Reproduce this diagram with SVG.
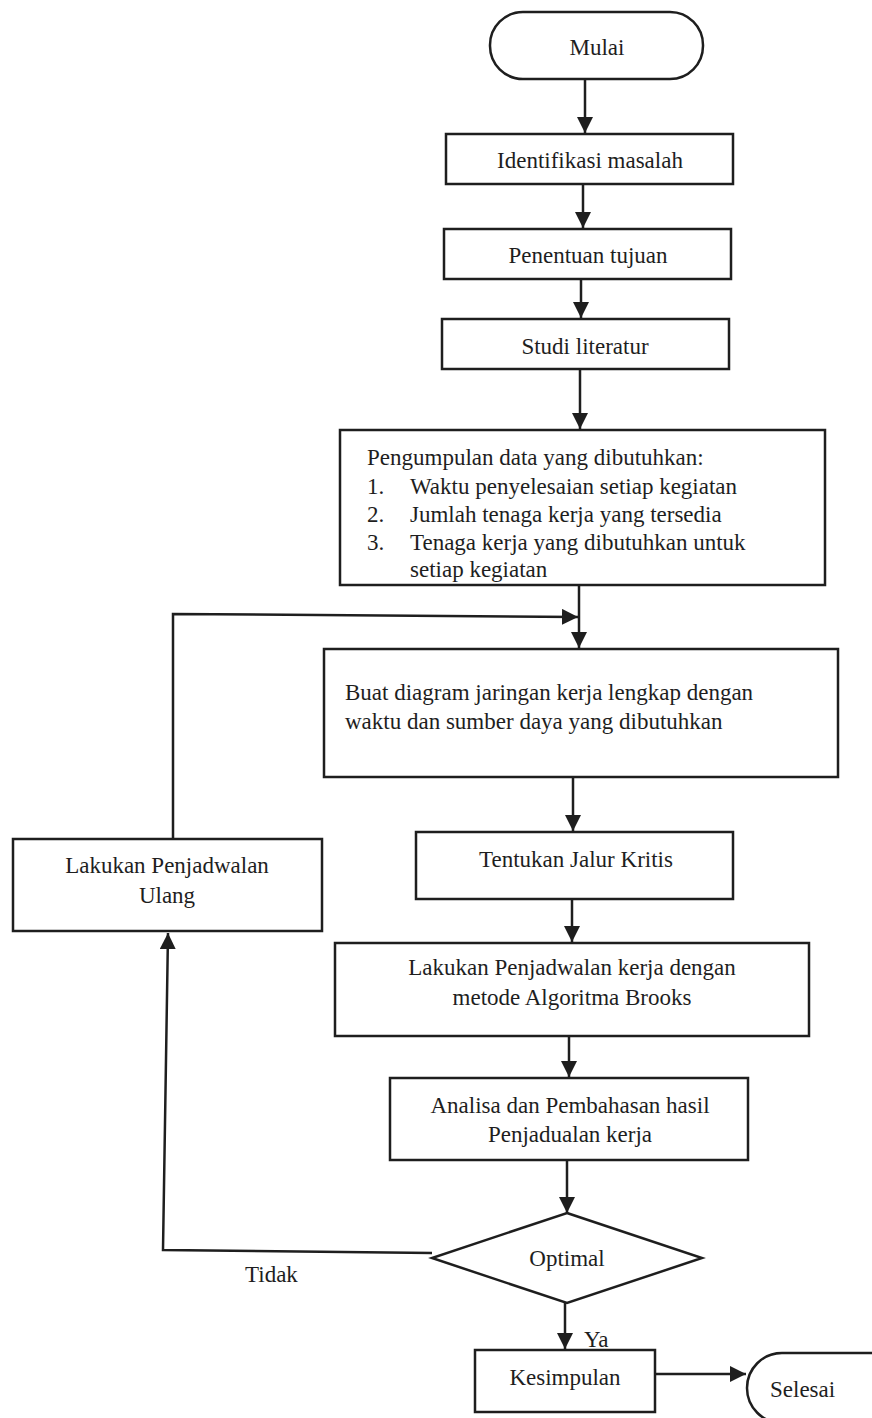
<svg xmlns="http://www.w3.org/2000/svg" width="872" height="1418" viewBox="0 0 872 1418">
<defs>
<style>
.n{fill:#fff;stroke:#1e1e1e;stroke-width:2.5}
.c{fill:none;stroke:#1e1e1e;stroke-width:2.5}
text{font-family:"Liberation Serif","Times New Roman",serif;font-size:23px;fill:#1e1e1e}
.m{text-anchor:middle}
</style>
<marker id="ah" markerUnits="userSpaceOnUse" markerWidth="16" markerHeight="16" refX="16" refY="8" orient="auto">
<path d="M0,0 L16,8 L0,16 z" fill="#1e1e1e"/>
</marker>
</defs>
<rect width="872" height="1418" fill="#fff"/>
<g id="connectors">
<line class="c" x1="585" y1="79" x2="585" y2="133" marker-end="url(#ah)"/>
<line class="c" x1="583" y1="184" x2="583" y2="228" marker-end="url(#ah)"/>
<line class="c" x1="581" y1="279" x2="581" y2="318" marker-end="url(#ah)"/>
<line class="c" x1="580" y1="369" x2="580" y2="429" marker-end="url(#ah)"/>
<line class="c" x1="579" y1="585" x2="579" y2="648" marker-end="url(#ah)"/>
<polyline class="c" points="173,838 173,614 578,617" marker-end="url(#ah)"/>
<line class="c" x1="573" y1="777" x2="573" y2="831" marker-end="url(#ah)"/>
<line class="c" x1="572" y1="899" x2="572" y2="942" marker-end="url(#ah)"/>
<line class="c" x1="569" y1="1036" x2="569" y2="1077" marker-end="url(#ah)"/>
<line class="c" x1="567" y1="1160" x2="567" y2="1213" marker-end="url(#ah)"/>
<polyline class="c" points="432,1253 163,1250 168,933" marker-end="url(#ah)"/>
<line class="c" x1="565" y1="1303" x2="565" y2="1349" marker-end="url(#ah)"/>
<line class="c" x1="655" y1="1374" x2="746" y2="1374" marker-end="url(#ah)"/>
<text x="245" y="1282">Tidak</text>
<text x="584" y="1347">Ya</text>
</g>
<g id="mulai">
<rect class="n" x="490" y="12" width="213" height="67" rx="33"/>
<text class="m" x="597" y="55">Mulai</text>
</g>
<g id="identifikasi">
<rect class="n" x="446" y="134" width="287" height="50"/>
<text class="m" x="590" y="168">Identifikasi masalah</text>
</g>
<g id="penentuan">
<rect class="n" x="444" y="229" width="287" height="50"/>
<text class="m" x="588" y="263">Penentuan tujuan</text>
</g>
<g id="studi">
<rect class="n" x="442" y="319" width="287" height="50"/>
<text class="m" x="585" y="354">Studi literatur</text>
</g>
<g id="pengumpulan">
<rect class="n" x="340" y="430" width="485" height="155"/>
<text x="367" y="465">Pengumpulan data yang dibutuhkan:</text>
<text x="367" y="494">1.</text>
<text x="410" y="494">Waktu penyelesaian setiap kegiatan</text>
<text x="367" y="522">2.</text>
<text x="410" y="522">Jumlah tenaga kerja yang tersedia</text>
<text x="367" y="550">3.</text>
<text x="410" y="550">Tenaga kerja yang dibutuhkan untuk</text>
<text x="410" y="577">setiap kegiatan</text>
</g>
<g id="buat">
<rect class="n" x="324" y="649" width="514" height="128"/>
<text x="345" y="700">Buat diagram jaringan kerja lengkap dengan</text>
<text x="345" y="729">waktu dan sumber daya yang dibutuhkan</text>
</g>
<g id="tentukan">
<rect class="n" x="416" y="832" width="317" height="67"/>
<text class="m" x="576" y="867">Tentukan Jalur Kritis</text>
</g>
<g id="ulang">
<rect class="n" x="13" y="839" width="309" height="92"/>
<text class="m" x="167" y="873">Lakukan Penjadwalan</text>
<text class="m" x="167" y="903">Ulang</text>
</g>
<g id="penjadwalan">
<rect class="n" x="335" y="943" width="474" height="93"/>
<text class="m" x="572" y="975">Lakukan Penjadwalan kerja dengan</text>
<text class="m" x="572" y="1005">metode Algoritma Brooks</text>
</g>
<g id="analisa">
<rect class="n" x="390" y="1078" width="358" height="82"/>
<text class="m" x="570" y="1113">Analisa dan Pembahasan hasil</text>
<text class="m" x="570" y="1142">Penjadualan kerja</text>
</g>
<g id="optimal">
<polygon class="n" points="567,1213 702,1258 567,1303 432,1258"/>
<text class="m" x="567" y="1266">Optimal</text>
</g>
<g id="kesimpulan">
<rect class="n" x="475" y="1350" width="180" height="62"/>
<text class="m" x="565" y="1385">Kesimpulan</text>
</g>
<g id="selesai">
<rect class="n" x="747" y="1353" width="160" height="70" rx="35"/>
<text x="770" y="1397">Selesai</text>
</g>
</svg>
